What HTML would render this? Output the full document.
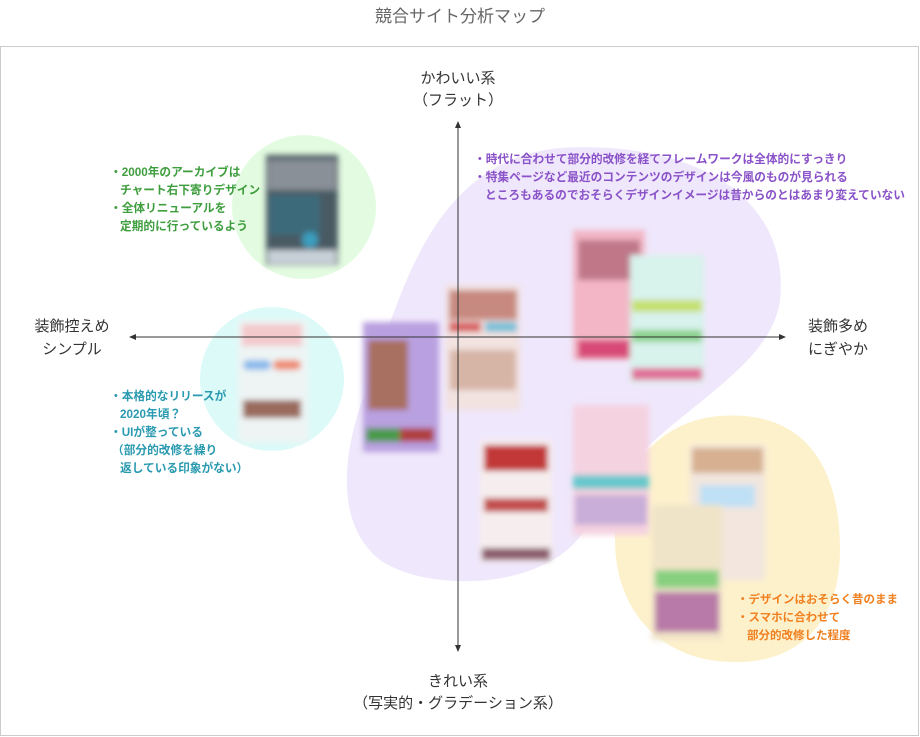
<!DOCTYPE html>
<html><head><meta charset="utf-8"><style>
body{margin:0;background:#fff;width:920px;height:737px;overflow:hidden}
svg{display:block}
text{font-family:"Liberation Sans","Noto Sans CJK JP",sans-serif}
</style></head><body>
<svg width="920" height="737" viewBox="0 0 920 737">
<defs>
<filter id="b" x="-20%" y="-20%" width="140%" height="140%"><feGaussianBlur stdDeviation="3"/></filter>
<marker id="ah" markerWidth="8" markerHeight="8" refX="6" refY="4" orient="auto"><path d="M0,1 L7,4 L0,7 Z" fill="#333"/></marker>
</defs>
<text x="460" y="22" text-anchor="middle" font-size="17" fill="#666">競合サイト分析マップ</text>
<rect x="0.5" y="46.5" width="918" height="689" fill="#fff" stroke="#ccc"/>
<path d="M560,148 C700,140 790,200 780,300 C770,380 640,420 590,520 C560,590 430,595 380,560 C330,520 345,440 370,380 C400,300 430,160 560,148 Z" fill="#efe7fb"/>
<path d="M720,416 C800,410 840,460 840,550 C840,630 790,665 730,662 C660,660 615,610 615,540 C615,470 660,420 720,416 Z" fill="#fdf1cc"/>
<circle cx="304" cy="207" r="72" fill="#e3fbe0"/>
<circle cx="272" cy="379" r="72" fill="#dcfaf8"/>
<g filter="url(#b)">
<rect x="266" y="155" width="72" height="110" fill="#4a5a64"/><rect x="268" y="160" width="68" height="30" fill="#8a9098"/><rect x="270" y="195" width="50" height="40" fill="#3c6a7a"/><circle cx="310" cy="240" r="8" fill="#3a9fbf"/><rect x="268" y="250" width="68" height="14" fill="#c8d0d8"/>
<rect x="238" y="320" width="70" height="122" fill="#eef4f4"/><rect x="242" y="324" width="60" height="22" fill="#f3c9cc"/><rect x="243" y="360" width="28" height="10" rx="5" fill="#8ab9ea"/><rect x="273" y="360" width="28" height="10" rx="5" fill="#ee8a70"/><rect x="243" y="400" width="58" height="18" fill="#9a6a5c"/>
<rect x="363" y="322" width="76" height="130" fill="#b9a0e0"/><rect x="368" y="340" width="40" height="70" fill="#a86f60"/><rect x="366" y="428" width="34" height="14" fill="#4a9a4a"/><rect x="400" y="428" width="34" height="14" fill="#b04040"/>
<rect x="446" y="285" width="74" height="125" fill="#f2e2e0"/><rect x="449" y="290" width="68" height="30" fill="#c78a80"/><rect x="449" y="322" width="32" height="10" fill="#d86060"/><rect x="485" y="322" width="32" height="10" fill="#79c0d8"/><rect x="450" y="350" width="66" height="40" fill="#d7b5a6"/>
<rect x="573" y="230" width="72" height="130" fill="#f2b6c6"/><rect x="578" y="240" width="62" height="40" fill="#c07888"/><rect x="578" y="340" width="62" height="18" fill="#d84a78"/>
<rect x="630" y="255" width="74" height="128" fill="#d8f2ec"/><rect x="632" y="300" width="70" height="12" fill="#c6e070"/><rect x="632" y="330" width="70" height="12" fill="#8ad18a"/><rect x="632" y="368" width="70" height="12" fill="#e0709a"/>
<rect x="480" y="440" width="72" height="122" fill="#f6eeee"/><rect x="484" y="445" width="64" height="26" fill="#c23838"/><rect x="484" y="498" width="64" height="14" fill="#c45050"/><rect x="482" y="548" width="68" height="12" fill="#8a5a6a"/>
<rect x="573" y="405" width="76" height="130" fill="#f5d2e0"/><rect x="573" y="475" width="76" height="14" fill="#68c8cc"/><rect x="575" y="495" width="72" height="30" fill="#c8aed8"/>
<rect x="690" y="445" width="75" height="135" fill="#f2e6de"/><rect x="692" y="448" width="71" height="25" fill="#d6b090"/><rect x="700" y="485" width="55" height="22" fill="#bfe0f5"/>
<rect x="652" y="505" width="70" height="135" fill="#f0e4c8"/><rect x="655" y="570" width="64" height="18" fill="#88d080"/><rect x="655" y="592" width="64" height="40" fill="#b87aa8"/>
</g>
<line x1="458" y1="337" x2="458" y2="122" stroke="#333" marker-end="url(#ah)"/>
<line x1="458" y1="337" x2="458" y2="651" stroke="#333" marker-end="url(#ah)"/>
<line x1="458" y1="337" x2="785" y2="337" stroke="#333" marker-end="url(#ah)"/>
<line x1="458" y1="337" x2="130" y2="337" stroke="#333" marker-end="url(#ah)"/>
<g font-size="15" fill="#333">
<text x="458" y="83" text-anchor="middle">かわいい系</text>
<text x="458" y="105" text-anchor="middle">（フラット）</text>
<text x="72" y="331" text-anchor="middle">装飾控えめ</text>
<text x="72" y="354" text-anchor="middle">シンプル</text>
<text x="838" y="331" text-anchor="middle">装飾多め</text>
<text x="838" y="354" text-anchor="middle">にぎやか</text>
<text x="458" y="686" text-anchor="middle">きれい系</text>
<text x="458" y="708" text-anchor="middle">（写実的・グラデーション系）</text>
</g>
<g font-size="11.7" font-weight="bold" fill="#3e9e3e">
<text x="110" y="176">・2000年のアーカイブは</text>
<text x="120" y="194">チャート右下寄りデザイン</text>
<text x="110" y="212">・全体リニューアルを</text>
<text x="120" y="230">定期的に行っているよう</text>
</g>
<g font-size="11.7" font-weight="bold" fill="#2a9ab0">
<text x="110" y="400">・本格的なリリースが</text>
<text x="120" y="418">2020年頃？</text>
<text x="110" y="436">・UIが整っている</text>
<text x="112" y="454">（部分的改修を繰り</text>
<text x="120" y="472">返している印象がない）</text>
</g>
<g font-size="11.7" font-weight="bold" fill="#8a52c8">
<text x="474" y="163">・時代に合わせて部分的改修を経てフレームワークは全体的にすっきり</text>
<text x="474" y="181">・特集ページなど最近のコンテンツのデザインは今風のものが見られる</text>
<text x="485" y="199">ところもあるのでおそらくデザインイメージは昔からのとはあまり変えていない</text>
</g>
<g font-size="11.5" font-weight="bold" fill="#f08020">
<text x="737" y="603">・デザインはおそらく昔のまま</text>
<text x="737" y="621">・スマホに合わせて</text>
<text x="747" y="639">部分的改修した程度</text>
</g>
</svg>
</body></html>
